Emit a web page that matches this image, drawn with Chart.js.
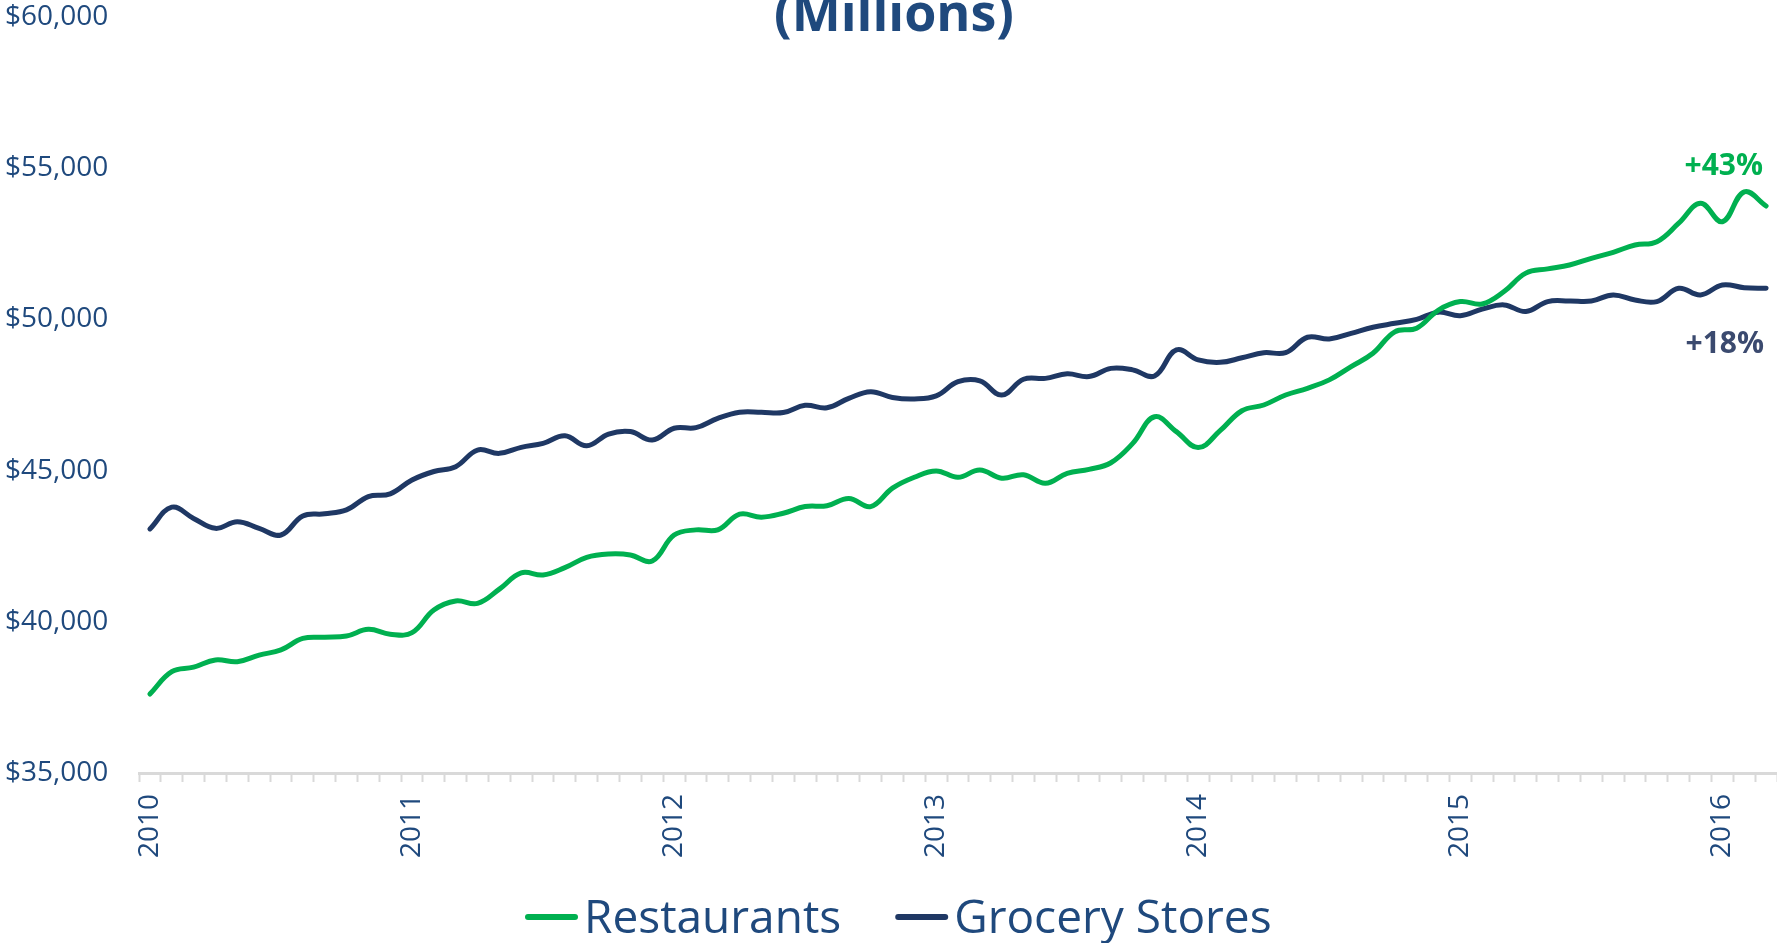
<!DOCTYPE html>
<html><head><meta charset="utf-8">
<script src="https://cdn.jsdelivr.net/npm/chart.js@4.4.1/dist/chart.umd.min.js"></script>
<style>html,body{margin:0;padding:0;background:#fff;overflow:hidden}#wrap{width:1777px;height:943px}</style>
</head><body><div id="wrap"><canvas id="c" width="1777" height="943"></canvas></div>
<script>
const months = [
 '2010-01','2010-02','2010-03','2010-04','2010-05','2010-06','2010-07','2010-08','2010-09','2010-10','2010-11','2010-12',
 '2011-01','2011-02','2011-03','2011-04','2011-05','2011-06','2011-07','2011-08','2011-09','2011-10','2011-11','2011-12',
 '2012-01','2012-02','2012-03','2012-04','2012-05','2012-06','2012-07','2012-08','2012-09','2012-10','2012-11','2012-12',
 '2013-01','2013-02','2013-03','2013-04','2013-05','2013-06','2013-07','2013-08','2013-09','2013-10','2013-11','2013-12',
 '2014-01','2014-02','2014-03','2014-04','2014-05','2014-06','2014-07','2014-08','2014-09','2014-10','2014-11','2014-12',
 '2015-01','2015-02','2015-03','2015-04','2015-05','2015-06','2015-07','2015-08','2015-09','2015-10','2015-11','2015-12',
 '2016-01','2016-02','2016-03'];
const restaurants = [
 37610,38350,38500,38740,38680,38900,39070,39450,39490,39530,39750,39590,
 39640,40390,40690,40610,41080,41620,41550,41790,42130,42240,42210,42010,
 42870,43040,43040,43560,43460,43590,43810,43840,44080,43810,44420,44780,
 44990,44780,45020,44750,44860,44580,44910,45040,45260,45900,46780,46290,
 45760,46320,46980,47170,47500,47720,48000,48440,48880,49590,49710,50310,
 50590,50510,50920,51530,51670,51800,52020,52220,52460,52570,53180,53840,
 53230,54220,53750];
const grocery = [
 43070,43790,43420,43090,43310,43090,42870,43500,43570,43700,44140,44230,
 44690,44970,45130,45680,45570,45770,45900,46150,45820,46210,46290,46010,
 46400,46420,46730,46930,46930,46920,47160,47080,47390,47610,47420,47370,
 47470,47940,47970,47500,48020,48050,48200,48110,48380,48330,48130,48990,
 48660,48580,48730,48900,48900,49410,49350,49540,49740,49870,50000,50240,
 50120,50340,50480,50260,50590,50610,50610,50810,50640,50590,51030,50810,
 51140,51050,51030];
const yTicks = [35000, 40000, 45000, 50000, 55000, 60000];
const seriesNames = ['Restaurants', 'Grocery Stores'];
const seriesColors = ['#00B050', '#1F3864'];
const titleText = '(Millions)';
const growthLabels = ['+43%', '+18%'];
const growthColors = ['#00B050', '#3B4A6F'];
const textColor = '#1F497D';
const FONT = '"Open Sans", "Noto Sans", sans-serif';

const overlay = {
  id: 'overlay',
  afterDraw(chart) {
    const ctx = chart.ctx;
    ctx.save();
    ctx.textBaseline = 'alphabetic';
    // title (partially cut off at top)
    ctx.fillStyle = textColor;
    ctx.font = 'bold 52px ' + FONT;
    ctx.textAlign = 'center';
    ctx.fillText(titleText, 894, 31);
    // growth annotations
    ctx.textAlign = 'right';
    ctx.font = 'bold 30px ' + FONT;
    ctx.fillStyle = growthColors[0];
    ctx.fillText(growthLabels[0], 1763, 175);
    ctx.fillStyle = growthColors[1];
    ctx.fillText(growthLabels[1], 1764, 353);
    // legend
    ctx.textAlign = 'left';
    ctx.font = '46px ' + FONT;
    let x = 525;
    chart.data.datasets.forEach((ds) => {
      ctx.strokeStyle = ds.borderColor;
      ctx.lineWidth = 6;
      ctx.lineCap = 'round';
      ctx.beginPath();
      ctx.moveTo(x + 3, 917);
      ctx.lineTo(x + 50, 917);
      ctx.stroke();
      ctx.fillStyle = textColor;
      ctx.fillText(ds.label, x + 59, 933);
      x = x + 59 + ctx.measureText(ds.label).width + 54;
    });
    ctx.restore();
  }
};

new Chart(document.getElementById('c'), {
  type: 'line',
  data: {
    labels: months,
    datasets: [
      {label: seriesNames[0], data: restaurants, borderColor: seriesColors[0], backgroundColor: seriesColors[0],
       borderWidth: 5, pointRadius: 0, tension: 0.4, fill: false, borderCapStyle: 'round', borderJoinStyle: 'round'},
      {label: seriesNames[1], data: grocery, borderColor: seriesColors[1], backgroundColor: seriesColors[1],
       borderWidth: 5, pointRadius: 0, tension: 0.4, fill: false, borderCapStyle: 'round', borderJoinStyle: 'round'}
    ]
  },
  options: {
    responsive: false, animation: false, devicePixelRatio: 1,
    layout: {padding: {left: 5, top: 17, right: 0, bottom: 0}},
    plugins: {legend: {display: false}, tooltip: {enabled: false}, title: {display: false}},
    scales: {
      x: {
        type: 'category', offset: true,
        grid: {display: true, drawOnChartArea: false, drawTicks: true, tickLength: 9, tickWidth: 2, tickColor: '#D9D9D9', offset: true},
        border: {display: true, color: '#D9D9D9', width: 3},
        ticks: {
          autoSkip: false, maxRotation: 90, minRotation: 90, padding: 12, color: textColor,
          font: {family: FONT, size: 28},
          callback(v) { const l = this.getLabelForValue(v); return l.endsWith('-01') ? l.slice(0, 4) : ''; }
        },
        afterFit(s) { s.height = 170; s.paddingLeft = 0; s.paddingRight = 0; }
      },
      y: {
        min: 35000, max: 60000,
        grid: {display: false}, border: {display: false},
        afterBuildTicks(s) { s.ticks = yTicks.map(v => ({value: v})); },
        ticks: {padding: 0, crossAlign: 'far', color: textColor, font: {family: FONT, size: 28},
          callback: v => '$' + v.toLocaleString('en-US')},
        afterFit(s) { s.width = 134; s.paddingTop = 0; s.paddingBottom = 0; }
      }
    }
  },
  plugins: [overlay]
});
</script>
</body></html>
